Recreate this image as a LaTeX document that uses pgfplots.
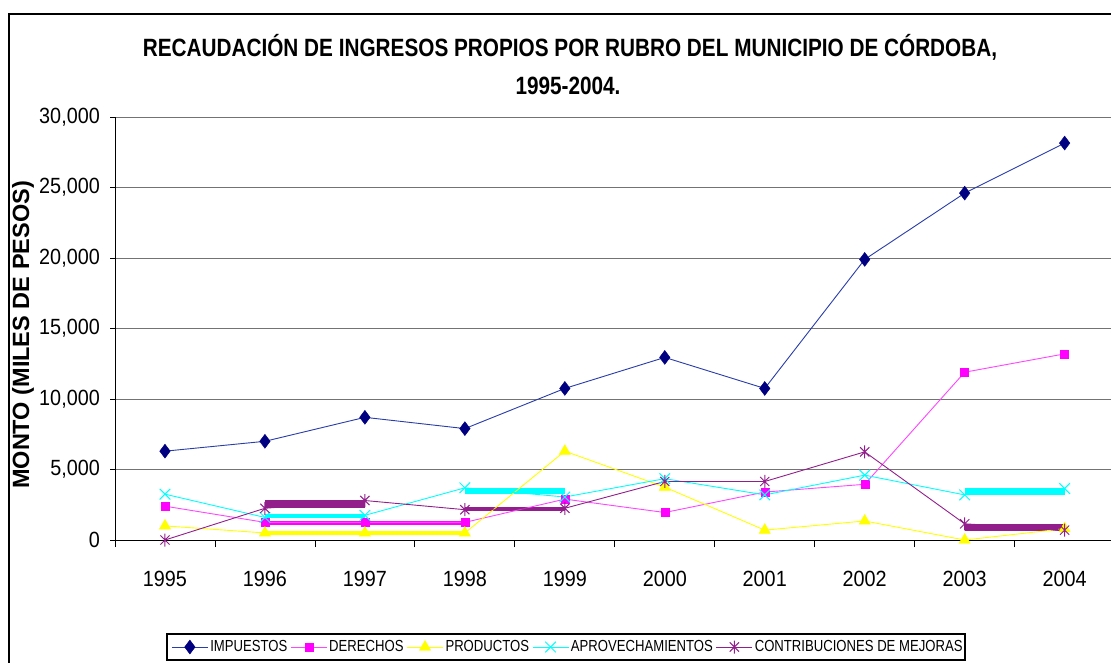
\documentclass[border=0pt]{standalone}
\usepackage{pgfplots}
\usepackage{pgfplotstable}
\pgfplotsset{compat=1.18}
\usepackage{fontspec}
\setmainfont{Liberation Sans}
\newfontfamily\narrowfont[FakeStretch=0.9]{Liberation Sans}
\newfontfamily\titlefont[FakeStretch=0.83]{Liberation Sans}
\newfontfamily\legfont[FakeStretch=0.82]{Liberation Sans}

\definecolor{impC}{RGB}{0,0,128}
\definecolor{impL}{RGB}{40,60,170}
\definecolor{derC}{RGB}{255,0,255}
\definecolor{derL}{RGB}{255,70,255}
\definecolor{proC}{RGB}{255,255,0}
\definecolor{apoC}{RGB}{0,255,255}
\definecolor{conC}{RGB}{146,30,140}

\pgfdeclareplotmark{xstar}{%
 \pgfpathmoveto{\pgfqpoint{0pt}{\pgfplotmarksize}}%
 \pgfpathlineto{\pgfqpoint{0pt}{-\pgfplotmarksize}}%
 \pgfpathmoveto{\pgfqpoint{-.707\pgfplotmarksize}{-.707\pgfplotmarksize}}%
 \pgfpathlineto{\pgfqpoint{.707\pgfplotmarksize}{.707\pgfplotmarksize}}%
 \pgfpathmoveto{\pgfqpoint{-.707\pgfplotmarksize}{.707\pgfplotmarksize}}%
 \pgfpathlineto{\pgfqpoint{.707\pgfplotmarksize}{-.707\pgfplotmarksize}}%
 \pgfusepathqstroke}

\pgfplotstableread{
x imp der pro apo con
0 6300 2400 1000 3250 0
1 7000 1250 500 1600 2250
2 8700 1250 500 1750 2800
3 7900 1250 500 3700 2150
4 10750 2900 6300 3050 2250
5 12950 1950 3750 4350 4150
6 10750 3400 700 3200 4150
7 19900 3950 1350 4600 6250
8 24600 11900 0 3200 1150
9 28150 13200 800 3650 700
}\datatable

\begin{document}
\begin{tikzpicture}[x=1pt,y=1pt]
\useasboundingbox (0,0) rectangle (1111,662);
\draw[line width=2pt] (9,-2) -- (9,648) -- (1113,648);
\node[font=\titlefont\bfseries\fontsize{25}{30}\selectfont, anchor=base, inner sep=0pt] at (570,605) {RECAUDACIÓN DE INGRESOS PROPIOS POR RUBRO DEL MUNICIPIO DE CÓRDOBA,};
\node[font=\titlefont\bfseries\fontsize{25}{30}\selectfont, anchor=base, inner sep=0pt] at (568,567) {1995-2004.};
\node[rotate=90, font=\bfseries\fontsize{23.5}{24}\selectfont, inner sep=0pt] at (23,327) {MONTO (MILES DE PESOS)};
\draw[line width=1.5pt] (167,2) rectangle (965,28);
\begin{axis}[
  at={(115pt,122pt)}, anchor=south west,
  scale only axis, width=996pt, height=423pt,
  xmin=-0.5, xmax=9.464, ymin=0, ymax=30000,
  scaled y ticks=false,
  axis x line*=bottom, axis y line*=left,
  axis line style={black, line width=1pt},
  xtick={0,...,9},
  xticklabels={1995,1996,1997,1998,1999,2000,2001,2002,2003,2004},
  minor xtick={-0.5,0.5,...,8.5},
  ytick={0,5000,...,30000},
  yticklabels={0,{5,000},{10,000},{15,000},{20,000},{25,000},{30,000}},
  ymajorgrids,
  grid style={black!55, line width=0.8pt},
  tick align=outside,
  major tick length=5pt, minor tick length=7pt,
  tick style={black, line width=0.8pt},
  major x tick style={draw=none},
  ticklabel style={font=\narrowfont\fontsize{22}{22}\selectfont, inner sep=0pt},
  yticklabel style={anchor=east, xshift=-10pt},
  xticklabel style={anchor=base, yshift=-41pt},
  legend columns=5,
  legend style={at={(0.4548,-0.253)}, anchor=center, draw=none, fill=none,
    font=\legfont\fontsize{16}{16}\selectfont, inner sep=1pt,
    /tikz/every even column/.append style={column sep=1pt}},
  legend image code/.code={\draw[mark repeat=2,mark phase=2] plot coordinates {(0pt,0pt)(18pt,0pt)(36pt,0pt)};},
]
% thick horizontal segments present in the reference
\addplot[derC, line width=4.3pt, forget plot] coordinates {(1,1230)(3,1230)};
\addplot[proC, line width=4pt, forget plot] coordinates {(1,520)(3,520)};
\addplot[apoC, line width=4.3pt, forget plot] coordinates {(1,1720)(2,1720)};
\addplot[conC, line width=7.5pt, forget plot] coordinates {(1,2550)(2,2550)};
\addplot[apoC, line width=6.7pt, forget plot] coordinates {(3,3480)(4,3480)};
\addplot[conC, line width=4.3pt, forget plot] coordinates {(3,2200)(4,2200)};
\addplot[apoC, line width=7pt, forget plot] coordinates {(8,3470)(9,3470)};
\addplot[conC, line width=7pt, forget plot] coordinates {(8,920)(9,920)};

\addplot[impL, line width=0.9pt, mark=diamond*, mark size=7pt, mark options={fill=impC, draw=impC, line width=0.4pt}] table[x=x,y=imp] {\datatable};
\addlegendentry{IMPUESTOS}
\addplot[derL, line width=0.9pt, mark=square*, mark size=4pt, mark options={fill=derC, draw=derC, line width=0.4pt}] table[x=x,y=der] {\datatable};
\addlegendentry{DERECHOS}
\addplot[proC, line width=0.9pt, mark=triangle*, mark size=6.5pt, mark options={fill=proC, draw=proC, line width=0.4pt}] table[x=x,y=pro] {\datatable};
\addlegendentry{PRODUCTOS}
\addplot[apoC, line width=0.9pt, mark=x, mark size=7.5pt, mark options={line width=1pt}] table[x=x,y=apo] {\datatable};
\addlegendentry{APROVECHAMIENTOS}
\addplot[conC, line width=0.9pt, mark=xstar, mark size=6.5pt, mark options={line width=1pt}] table[x=x,y=con] {\datatable};
\addlegendentry{CONTRIBUCIONES DE MEJORAS}
\end{axis}
\end{tikzpicture}
\end{document}
